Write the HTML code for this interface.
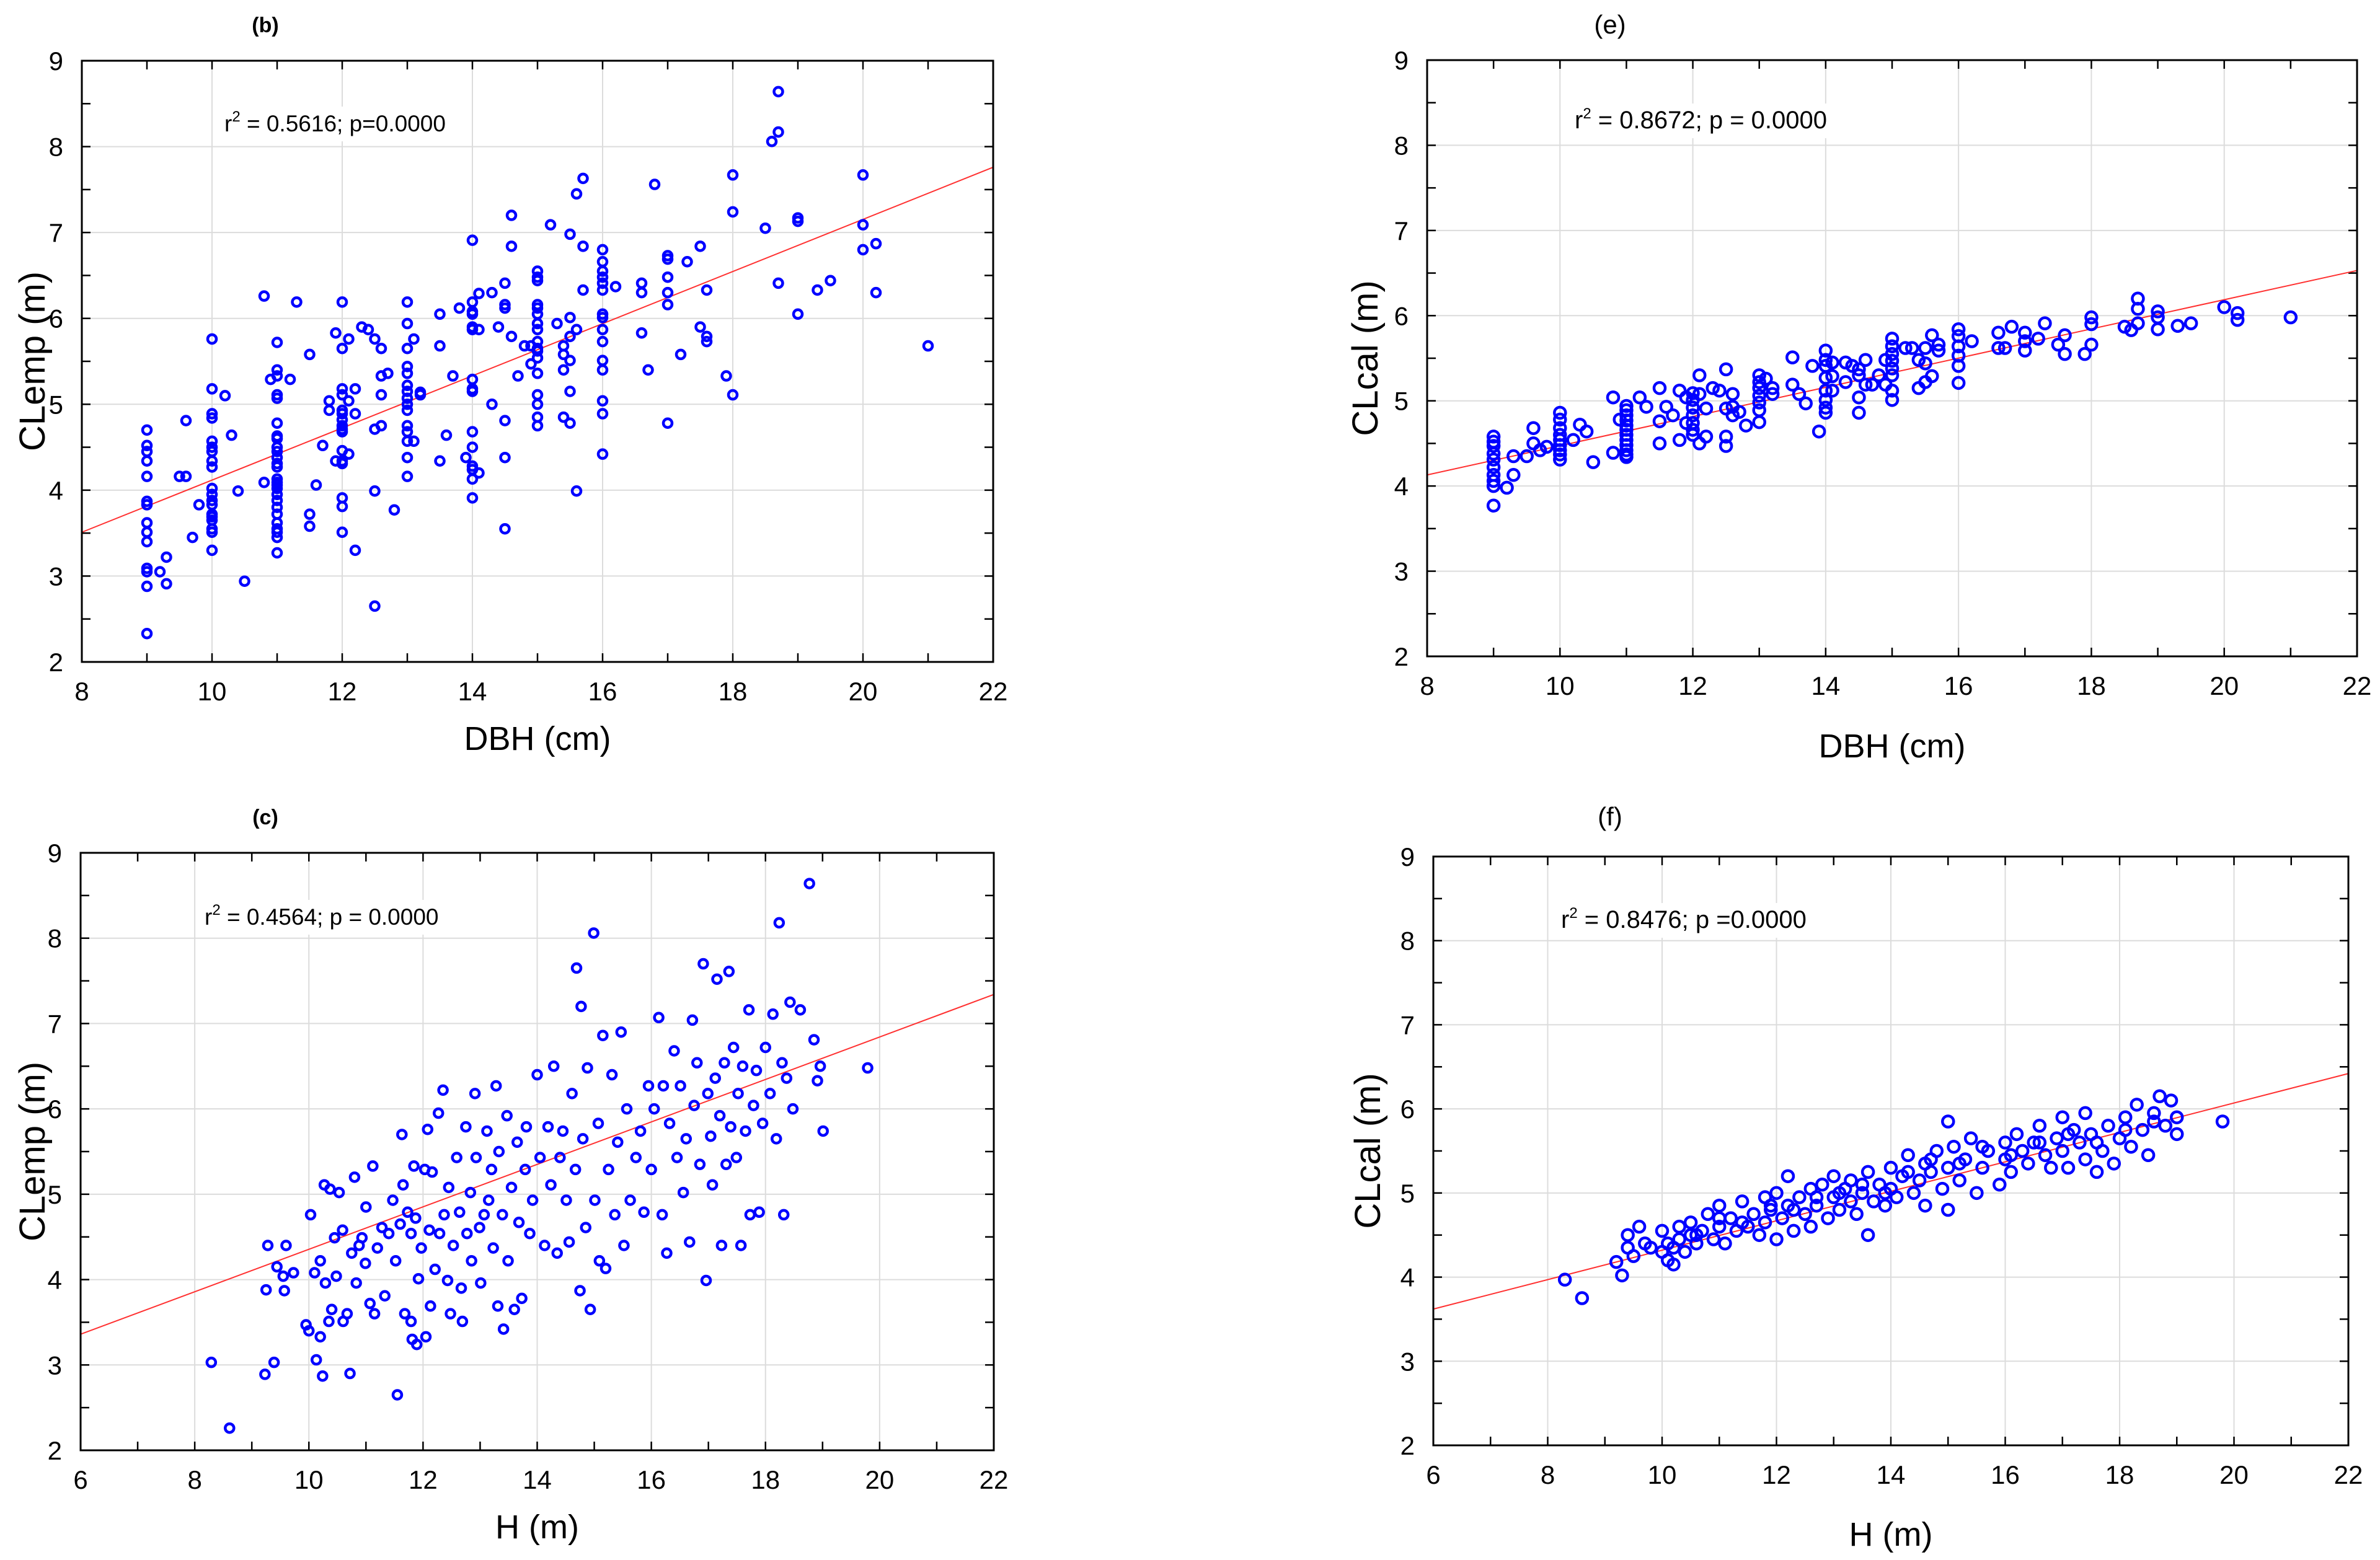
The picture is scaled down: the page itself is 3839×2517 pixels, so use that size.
<!DOCTYPE html>
<html><head><meta charset="utf-8">
<style>
html,body{margin:0;padding:0;background:#fff;}
svg{display:block;font-family:"Liberation Sans",Arial,sans-serif;}
</style></head>
<body>
<svg id="fig" width="3839" height="2517" viewBox="0 0 3839 2517" xmlns="http://www.w3.org/2000/svg"></svg>
<script>
// ---------- data ----------
const bX = [9,9,9,9,9,9,9,9,9,9,9,9,9,9,9.2,9.3,9.3,9.5,9.6,9.6,9.7,9.8,
10,10,10,10,10,10,10,10,10,10,10,10,10,10,10,10,10,10,10,10.2,10.3,10.4,10.5,10.8,10.8,10.9,
11,11,11,11,11,11,11,11,11,11,11,11,11,11,11,11,11,11,11,11,11,11,11,11,11,11,
11.2,11.3,11.5,11.5,11.5,11.6,11.7,11.8,11.8,11.9,11.9,
12,12,12,12,12,12,12,12,12,12,12,12,12,12,12,12,12.1,12.1,12.1,12.2,12.2,12.2,12.3,12.4,12.5,12.5,12.5,12.5,12.6,12.6,12.6,12.6,12.7,12.8,
13,13,13,13,13,13,13,13,13,13,13,13,13,13,13,13.1,13.1,13.2,13.2,13.5,13.5,13.5,13.6,13.7,13.8,13.9,
14,14,14,14,14,14,14,14,14,14,14,14,14,14,14,14.1,14.1,14.1,14.3,14.3,14.4,14.5,14.5,14.5,14.5,14.5,14.5,14.6,14.6,14.6,14.7,14.8,14.9,14.9,
15,15,15,15,15,15,15,15,15,15,15,15,15,15,15,15,15,15.2,15.3,15.4,15.4,15.4,15.4,15.5,15.5,15.5,15.5,15.5,15.5,15.6,15.6,15.6,15.7,15.7,15.7,
16,16,16,16,16,16,16,16,16,16,16,16,16,16,16,16.2,16.6,16.6,16.6,16.7,16.8,17,17,17,17,17,17,17.2,17.3,17.5,17.5,17.6,17.6,17.6,17.9,18,18,18,
18.5,18.6,18.7,18.7,18.7,19,19,19,19.3,19.5,20,20,20,20.2,20.2,21];
const bY = [4.70,4.52,4.45,4.34,4.16,3.87,3.83,3.62,3.51,3.40,3.09,3.05,2.88,2.33,3.05,3.22,2.91,4.16,4.16,4.81,3.45,3.83,
5.76,5.18,4.89,4.84,4.57,4.50,4.45,4.34,4.27,4.02,3.95,3.88,3.83,3.72,3.69,3.65,3.55,3.51,3.30,5.10,4.64,3.99,2.94,6.26,4.09,5.29,
5.72,5.40,5.33,5.11,5.07,4.78,4.63,4.60,4.50,4.45,4.38,4.31,4.27,4.13,4.09,4.06,4.02,3.95,3.88,3.80,3.72,3.62,3.55,3.51,3.45,3.27,
5.29,6.19,5.58,3.72,3.58,4.06,4.52,5.04,4.93,5.83,4.34,
6.19,5.65,5.18,5.11,4.93,4.89,4.82,4.75,4.71,4.68,4.46,4.34,4.31,3.91,3.81,3.51,5.76,5.04,4.42,5.18,4.89,3.30,5.90,5.87,5.76,4.71,3.99,2.65,5.65,5.33,5.11,4.75,5.36,3.77,
6.19,5.94,5.65,5.44,5.36,5.22,5.15,5.07,5.00,4.93,4.75,4.68,4.57,4.38,4.16,5.76,4.57,5.14,5.11,6.05,5.68,4.34,4.64,5.33,6.12,4.38,
6.91,6.19,6.08,6.05,5.90,5.87,5.29,5.18,5.15,4.68,4.50,4.28,4.24,4.13,3.91,6.29,5.87,4.20,6.30,5.00,5.90,6.41,6.16,6.12,4.81,4.38,3.55,7.20,6.84,5.79,5.33,5.68,5.68,5.47,
6.55,6.48,6.44,6.16,6.12,6.05,5.94,5.87,5.73,5.65,5.62,5.54,5.36,5.11,5.00,4.85,4.75,7.09,5.94,5.68,5.58,5.40,4.85,6.98,6.01,5.79,5.51,5.15,4.78,7.45,5.87,3.99,7.63,6.84,6.33,
6.80,6.66,6.55,6.48,6.41,6.33,6.05,6.01,5.87,5.73,5.51,5.40,5.04,4.89,4.42,6.37,6.41,6.30,5.83,5.40,7.56,6.73,6.69,6.48,6.30,6.16,4.78,5.58,6.66,6.84,5.90,6.33,5.79,5.73,5.33,7.67,7.24,5.11,
7.05,8.06,8.64,8.17,6.41,7.17,7.13,6.05,6.33,6.44,7.67,7.09,6.80,6.87,6.30,5.68];
const bLine = [3.51, 7.76];

const eX = [9,9,9,9,9,9,9,9,9,9,9.2,9.3,9.3,9.5,9.6,9.6,9.7,9.8,
10,10,10,10,10,10,10,10,10,10.2,10.3,10.4,10.5,10.8,10.8,10.9,
11,11,11,11,11,11,11,11,11,11,11,11,11.2,11.3,11.5,11.5,11.5,11.6,11.7,11.8,11.8,11.9,11.9,
12,12,12,12,12,12,12,12.1,12.1,12.1,12.2,12.2,12.3,12.4,12.5,12.5,12.5,12.5,12.6,12.6,12.6,12.7,12.8,
13,13,13,13,13,13,13,13.1,13.2,13.2,13.5,13.5,13.6,13.7,13.8,13.9,
14,14,14,14,14,14,14,14,14.1,14.1,14.1,14.3,14.3,14.4,14.5,14.5,14.5,14.5,14.6,14.6,14.7,14.8,14.9,14.9,
15,15,15,15,15,15,15,15,15.2,15.3,15.4,15.4,15.5,15.5,15.5,15.6,15.6,15.7,15.7,
16,16,16,16,16,16,16.2,16.6,16.6,16.7,16.8,17,17,17,17.2,17.3,17.5,17.6,17.6,17.9,18,18,18,
18.5,18.6,18.7,18.7,18.7,19,19,19,19.3,19.5,20,20.2,20.2,21];
const eY = [4.58,4.52,4.47,4.38,4.31,4.22,4.13,4.06,4.00,3.77,3.98,4.35,4.13,4.35,4.68,4.50,4.42,4.46,
4.86,4.78,4.68,4.60,4.54,4.48,4.42,4.37,4.31,4.54,4.72,4.64,4.28,5.04,4.39,4.78,
4.94,4.89,4.83,4.77,4.71,4.66,4.60,4.54,4.48,4.42,4.37,4.34,5.04,4.93,5.15,4.76,4.50,4.93,4.83,5.12,4.54,5.04,4.74,
5.09,5.01,4.92,4.83,4.74,4.66,4.60,5.30,5.08,4.50,4.91,4.58,5.15,5.12,5.37,4.91,4.58,4.47,5.08,4.93,4.83,4.87,4.71,
5.30,5.22,5.15,5.06,4.98,4.89,4.75,5.26,5.15,5.08,5.51,5.19,5.08,4.97,5.41,4.64,
5.59,5.48,5.41,5.27,5.12,5.01,4.92,4.86,5.45,5.29,5.12,5.45,5.22,5.41,5.37,5.30,5.04,4.86,5.48,5.19,5.19,5.30,5.48,5.19,
5.73,5.64,5.55,5.47,5.38,5.30,5.12,5.01,5.62,5.62,5.48,5.15,5.62,5.44,5.22,5.77,5.29,5.66,5.59,
5.84,5.76,5.64,5.53,5.41,5.21,5.70,5.80,5.62,5.62,5.87,5.80,5.70,5.59,5.73,5.91,5.66,5.77,5.55,5.55,5.98,5.90,5.66,
5.87,5.83,6.20,6.08,5.91,6.05,5.98,5.84,5.88,5.91,6.10,6.03,5.95,5.98];
const eLine = [4.13, 6.53];

const cX = [8.29,8.61,9.25,9.28,9.23,9.39,9.44,9.55,9.6,9.57,9.73,9.95,10,10.03,10.1,10.13,10.2,10.2,10.24,10.27,10.29,10.35,10.37,10.4,10.45,10.48,10.53,10.59,10.6,10.67,10.72,10.75,10.8,10.83,10.88,10.93,10.99,11.0,11.07,11.12,11.15,11.2,11.28,11.33,11.4,11.47,11.52,11.55,11.6,11.63,11.65,11.68,11.73,11.79,11.79,11.81,11.84,11.87,11.89,11.92,11.97,12.03,12.05,12.08,12.11,12.13,12.16,12.21,12.27,12.29,12.35,12.37,12.43,12.45,12.48,12.53,12.59,12.64,12.67,12.69,12.75,12.77,12.83,12.85,12.91,12.93,12.99,13.01,13.07,13.12,13.15,13.2,13.23,13.28,13.31,13.33,13.39,13.41,13.47,13.49,13.55,13.6,13.65,13.68,13.73,13.79,13.81,13.87,13.92,14.0,14.05,14.13,14.19,14.24,14.29,14.35,14.4,14.45,14.51,14.56,14.61,14.67,14.69,14.75,14.77,14.8,14.85,14.88,14.93,14.99,15.01,15.07,15.09,15.15,15.2,15.25,15.31,15.36,15.41,15.47,15.52,15.57,15.63,15.73,15.81,15.87,15.95,16.0,16.05,16.13,16.19,16.21,16.27,16.32,16.4,16.45,16.51,16.56,16.61,16.67,16.72,16.75,16.8,16.85,16.91,16.96,16.99,17.04,17.07,17.12,17.15,17.2,17.23,17.28,17.31,17.36,17.39,17.44,17.49,17.52,17.57,17.6,17.65,17.71,17.73,17.79,17.84,17.89,17.95,18,18.08,18.13,18.19,18.24,18.29,18.32,18.37,18.43,18.48,18.61,18.77,18.85,18.91,18.96,19.01,19.79];
const cY = [3.03,2.26,3.88,4.40,2.89,3.03,4.15,4.04,4.4,3.87,4.08,3.47,3.40,4.76,4.08,3.06,3.33,4.22,2.87,5.11,3.96,3.51,5.06,3.65,4.49,4.04,5.02,4.58,3.51,3.60,2.9,4.31,5.2,3.96,4.4,4.49,4.19,4.85,3.72,5.33,3.6,4.37,4.61,3.81,4.54,4.93,4.22,2.65,4.65,5.70,5.11,3.6,4.79,4.54,3.51,3.3,5.33,4.72,3.24,4.01,4.37,5.29,3.33,5.76,4.58,3.69,5.26,4.12,5.95,4.54,6.22,4.76,3.99,5.08,3.6,4.4,5.43,4.79,3.90,3.51,5.79,4.54,5.02,4.22,6.18,5.43,4.61,3.96,4.76,5.74,4.93,5.29,4.37,6.27,3.69,5.5,4.76,3.42,5.92,4.22,5.08,3.65,5.61,4.67,3.78,5.29,5.79,4.54,4.93,6.40,5.43,4.4,5.79,5.11,6.5,4.31,5.43,5.74,4.93,4.44,6.18,5.29,7.65,3.87,7.2,5.65,4.61,6.48,3.65,8.06,4.93,5.83,4.22,6.86,4.13,5.29,6.4,4.76,5.61,6.9,4.4,6.0,4.93,5.43,5.74,4.79,6.27,5.29,6.0,7.07,4.76,6.27,4.31,5.83,6.68,5.43,6.27,5.02,5.65,4.44,7.04,6.04,6.54,5.35,7.7,3.99,6.18,5.68,5.11,6.36,7.52,5.92,4.4,6.54,5.35,7.61,5.79,6.72,5.43,6.18,4.4,6.5,5.74,7.16,4.76,6.04,6.45,4.79,5.83,6.72,6.18,7.11,5.65,8.18,6.54,4.76,6.36,7.25,6.0,7.16,8.64,6.81,6.33,6.5,5.74,6.48];
const cLine = [3.36, 7.34];

const fX = [8.3,8.6,9.2,9.3,9.4,9.4,9.5,9.6,9.7,9.8,10,10.0,10.1,10.1,10.2,10.3,10.3,10.4,10.5,10.5,10.6,10.7,10.8,10.9,11,11,11.1,11.2,11.3,11.4,11.5,11.6,11.7,11.8,11.8,11.9,12,12,12.1,12.2,12.2,12.3,12.4,12.5,12.6,12.6,12.7,12.8,12.9,13,13,13.1,13.2,13.3,13.3,13.4,13.5,13.6,13.6,13.7,13.8,13.9,14,14,14.1,14.2,14.3,14.4,14.5,14.6,14.6,14.7,14.8,14.9,15,15,15,15.1,15.2,15.3,15.4,15.5,15.6,15.7,15.9,16,16,16.1,16.2,16.3,16.4,16.5,16.6,16.7,16.8,16.9,17,17,17.1,17.2,17.3,17.4,17.4,17.5,17.6,17.7,17.8,17.9,18,18.1,18.2,18.3,18.4,18.5,18.6,18.7,18.8,18.9,19,19,19.8,
10.2,10.6,11.0,11.4,11.9,12.3,12.7,13.1,13.5,13.9,14.3,14.7,15.2,15.6,16.1,16.6,17.1,17.6,18.1,18.6];
const fY = [3.97,3.75,4.18,4.02,4.5,4.35,4.25,4.6,4.4,4.35,4.3,4.55,4.2,4.4,4.15,4.6,4.45,4.3,4.65,4.5,4.4,4.55,4.75,4.45,4.6,4.85,4.4,4.7,4.55,4.9,4.6,4.75,4.5,4.95,4.65,4.8,4.45,5.0,4.7,5.2,4.85,4.55,4.95,4.75,5.05,4.6,4.85,5.1,4.7,4.95,5.2,4.8,5.05,4.9,5.15,4.75,5.0,4.5,5.25,4.9,5.1,4.85,5.3,5.05,4.95,5.2,5.45,5.0,5.15,5.35,4.85,5.25,5.5,5.05,5.3,5.85,4.8,5.55,5.15,5.4,5.65,5.0,5.3,5.5,5.1,5.4,5.6,5.25,5.7,5.5,5.35,5.6,5.8,5.45,5.3,5.65,5.9,5.5,5.3,5.75,5.6,5.95,5.4,5.7,5.25,5.5,5.8,5.35,5.65,5.9,5.55,6.05,5.75,5.45,5.95,6.15,5.8,6.1,5.7,5.9,5.85,
4.35,4.5,4.7,4.65,4.85,4.8,4.95,5.0,5.1,5.0,5.25,5.4,5.35,5.55,5.45,5.6,5.7,5.6,5.75,5.85];
const fLine = [3.62, 6.42];

// ---------- drawing ----------
const NS = "http://www.w3.org/2000/svg";
const svg = document.getElementById('fig');
function mk(tag, attrs, parent){
  const e = document.createElementNS(NS, tag);
  for (const k in attrs) e.setAttribute(k, attrs[k]);
  (parent||svg).appendChild(e);
  return e;
}
function panel(cfg){
  const g = mk('g', {});
  
  
  const sx = v => cfg.L + (v - cfg.xmin) / (cfg.xmax - cfg.xmin) * (cfg.R - cfg.L);
  const sy = v => cfg.B - (v - 2) / 7 * (cfg.B - cfg.T);
  for (let v = cfg.xmin + 2; v < cfg.xmax; v += 2){
    const l = mk('line', {x1:sx(v), x2:sx(v), y1:cfg.T, y2:cfg.B, stroke:'#dcdcdc', 'stroke-width':2}, g);
    
    
  }
  for (let v = 3; v < 9; v++){
    const l = mk('line', {x1:cfg.L, x2:cfg.R, y1:sy(v), y2:sy(v), stroke:'#dcdcdc', 'stroke-width':2}, g);
    
    
  }
  for (let v = cfg.xmin + 1; v < cfg.xmax; v += 1){
    const len = 14;
    mk('line', {x1:sx(v), x2:sx(v), y1:cfg.B, y2:cfg.B - len, stroke:'#000', 'stroke-width':2.5}, g);
    mk('line', {x1:sx(v), x2:sx(v), y1:cfg.T, y2:cfg.T + len, stroke:'#000', 'stroke-width':2.5}, g);
  }
  for (let v = 2.5; v < 9; v += 0.5){
    mk('line', {x1:cfg.L, x2:cfg.L + 14, y1:sy(v), y2:sy(v), stroke:'#000', 'stroke-width':2.5}, g);
    mk('line', {x1:cfg.R, x2:cfg.R - 14, y1:sy(v), y2:sy(v), stroke:'#000', 'stroke-width':2.5}, g);
  }
  for (let v = cfg.xmin; v <= cfg.xmax; v += 2){
    const t = mk('text', {x:sx(v), y:cfg.B + 62, 'font-size':42, 'text-anchor':'middle', fill:'#000'}, g);
    
    
    t.textContent = v;
  }
  for (let v = 2; v <= 9; v++){
    const t = mk('text', {x:cfg.L - 30, y:sy(v) + 15, 'font-size':42, 'text-anchor':'end', fill:'#000'}, g);
    
    
    t.textContent = v;
  }
  const rl = mk('line', {x1:sx(cfg.xmin), y1:sy(cfg.line[0]), x2:sx(cfg.xmax), y2:sy(cfg.line[1]), stroke:'#ff3030', 'stroke-width':2}, g);
  
  
  for (let i = 0; i < cfg.xs.length; i++){
    const c = mk('circle', {cx:sx(cfg.xs[i]), cy:sy(cfg.ys[i]), r:cfg.r, fill:'none', stroke:'#0000ff', 'stroke-width':cfg.sw}, g);
    
    
  }
  const fr = mk('rect', {x:cfg.L, y:cfg.T, width:cfg.R - cfg.L, height:cfg.B - cfg.T, fill:'none', stroke:'#000', 'stroke-width':3}, g);
  
  
  const bg = mk('rect', {x:cfg.rx - 12, y:cfg.ry - 40, width:cfg.rw, height:56, fill:'#fff'}, g);
  
  
  const a = mk('text', {x:cfg.rx, y:cfg.ry, 'font-size':cfg.rfs, fill:'#000'}, g);
  
  
  a.innerHTML = 'r<tspan dy="-16" font-size="24">2</tspan><tspan dy="16">' + cfg.rtext + '</tspan>';
  const tt = mk('text', {x:cfg.tx, y:cfg.ty, 'font-size':cfg.tfs, 'text-anchor':'middle', 'font-weight':cfg.bold?'bold':'normal', fill:'#000'}, g);
  
  
  tt.textContent = cfg.title;
  const xt = mk('text', {x:(cfg.L + cfg.R)/2, y:cfg.xty, 'font-size':54, 'text-anchor':'middle', fill:'#000'}, g);
  
  
  xt.textContent = cfg.xlabel;
  const yc = (cfg.T + cfg.B)/2;
  const yt = mk('text', {x:cfg.ytx, y:yc, 'font-size':58, 'text-anchor':'middle', fill:'#000', transform:'rotate(-90 ' + cfg.ytx + ' ' + yc + ')'}, g);
  
  
  yt.textContent = cfg.ylabel;
}
panel({id:'b', L:132, R:1602, T:98, B:1068, xmin:8, xmax:22, xs:bX, ys:bY, line:bLine, r:7, sw:4.5,
  rx:362, ry:212, rw:380, rfs:37, rtext:' = 0.5616; p=0.0000', tx:428, ty:52, tfs:34, bold:true, title:'(b)',
  xlabel:'DBH (cm)', xty:1210, ylabel:'CLemp (m)', ytx:72});
panel({id:'e', L:2302, R:3802, T:97, B:1059, xmin:8, xmax:22, xs:eX, ys:eY, line:eLine, r:9, sw:4.5,
  rx:2540, ry:207, rw:500, rfs:40, rtext:' = 0.8672;  p = 0.0000', tx:2597, ty:54, tfs:42, bold:false, title:'(e)',
  xlabel:'DBH (cm)', xty:1222, ylabel:'CLcal (m)', ytx:2222});
panel({id:'c', L:130, R:1603, T:1376, B:2340, xmin:6, xmax:22, xs:cX, ys:cY, line:cLine, r:7, sw:4.5,
  rx:330, ry:1492, rw:400, rfs:37, rtext:' = 0.4564; p = 0.0000', tx:428, ty:1330, tfs:34, bold:true, title:'(c)',
  xlabel:'H (m)', xty:2482, ylabel:'CLemp (m)', ytx:72});
panel({id:'f', L:2312, R:3788, T:1382, B:2332, xmin:6, xmax:22, xs:fX, ys:fY, line:fLine, r:9, sw:4.5,
  rx:2518, ry:1497, rw:500, rfs:40, rtext:' = 0.8476;  p =0.0000', tx:2597, ty:1332, tfs:42, bold:false, title:'(f)',
  xlabel:'H (m)', xty:2494, ylabel:'CLcal (m)', ytx:2226});
</script>
</body></html>
